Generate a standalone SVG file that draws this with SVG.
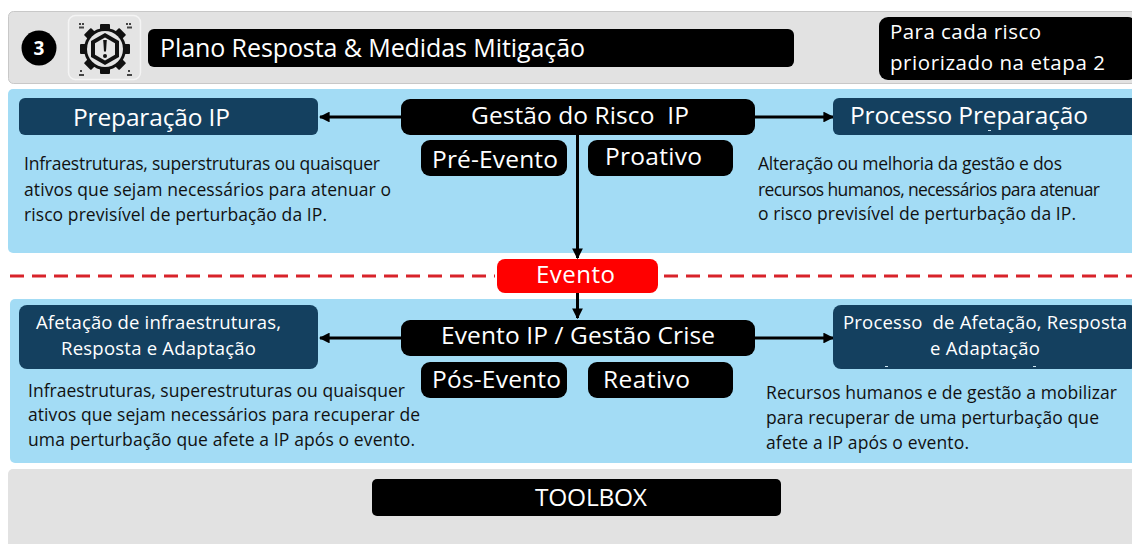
<svg xmlns="http://www.w3.org/2000/svg" width="1132" height="544" viewBox="0 0 1132 544">
<style>
text{font-family:"Open Sans","Noto Sans","Liberation Sans",sans-serif;white-space:pre}
.w{fill:#fff}
.d{fill:#111;font-size:17.500px}
.blk{fill:#000}
.nav{fill:#14405f}
.c{fill:none;stroke:#000;stroke-width:3}
.tick{fill:#cfe6f2}
</style>
<defs>
<marker id="a" markerWidth="3.600" markerHeight="3.600" refX="3.200" refY="1.800" orient="auto" markerUnits="strokeWidth"><path d="M0 0L3.600 1.800L0 3.600z" fill="#000"/></marker>
<rect id="tooth" x="100" y="24" width="10" height="9" rx="1" fill="#111"/>
</defs>
<rect width="1132" height="544" fill="#fff"/>
<g id="header">
<rect x="8.500" y="11.500" width="1130" height="72" rx="5" fill="#e2e2e2" stroke="#c8c8c8"/>
<circle cx="39" cy="48" r="17.500" fill="#000"/>
<text class="w" x="33.500" y="55" font-size="19" font-weight="700">3</text>
<rect x="68.500" y="15.500" width="72" height="64" rx="7" fill="#e4e4e4" stroke="#f4f4f4" stroke-width="1.500"/>
<g id="gear">
<use href="#tooth"/>
<use href="#tooth" transform="rotate(45 105 49)"/>
<use href="#tooth" transform="rotate(90 105 49)"/>
<use href="#tooth" transform="rotate(135 105 49)"/>
<use href="#tooth" transform="rotate(180 105 49)"/>
<use href="#tooth" transform="rotate(225 105 49)"/>
<use href="#tooth" transform="rotate(270 105 49)"/>
<use href="#tooth" transform="rotate(315 105 49)"/>
<circle cx="105" cy="49" r="21" fill="#111"/>
<circle cx="105" cy="49" r="18" fill="#e4e4e4"/>
<path d="M105 33l14 8v16l-14 8-14-8V41z" fill="#111"/>
<path d="M105 37.500l10 5.800v11.400l-10 5.800-10-5.800V43.300z" fill="#e4e4e4"/>
<path d="M103.200 40h3.600l-.8 11.500h-2z" fill="#111"/><circle cx="105" cy="56" r="2" fill="#111"/>
<path d="M79 24h2M82 24h2M79 27.500h5M126 24h2M129 24h2M127 27.500h5M80 71h2M79 75h5M128 71h2M127 75h5" stroke="#444" stroke-width="2"/>
</g>
<rect class="blk" x="148" y="29" width="646" height="38" rx="6"/>
<text class="w" x="160" y="57" font-size="25" textLength="425">Plano Resposta &amp; Medidas Mitigação</text>
<rect class="blk" x="879" y="17" width="258" height="63" rx="9"/>
<text class="w" x="890" y="39" font-size="20.500" textLength="151">Para cada risco</text>
<text class="w" x="890" y="70" font-size="20.500" textLength="215">priorizado na etapa 2</text>
</g>
<rect x="8" y="89" width="1130" height="164" rx="5" fill="#a3dcf5"/>
<rect x="10" y="299" width="1128" height="164" rx="5" fill="#a3dcf5"/>
<rect x="8" y="469" width="1130" height="85" rx="5" fill="#e2e2e2"/>
<path d="M10 276H495M664 276H1132" fill="none" stroke="#d8232a" stroke-width="3" stroke-dasharray="14 8"/>
<g id="connectors">
<path class="c" d="M401 117H320" marker-end="url(#a)"/>
<path class="c" d="M754 117H833" marker-end="url(#a)"/>
<path class="c" d="M577.500 134V258" marker-end="url(#a)"/>
<path class="c" d="M577.500 293V318" marker-end="url(#a)"/>
<path class="c" d="M401 338H320" marker-end="url(#a)"/>
<path class="c" d="M754 338H833" marker-end="url(#a)"/>
</g>
<g id="prep-ip"><rect class="nav" x="19" y="98" width="299" height="37" rx="6"/><text class="w" x="73" y="126" font-size="24.500" textLength="157">Preparação IP</text></g>
<g id="gestao"><rect class="blk" x="401" y="99" width="354" height="36" rx="9"/><text class="w" x="471" y="124" font-size="24.500" textLength="218">Gestão do Risco  IP</text></g>
<g id="proc-prep"><rect class="nav" x="833" y="98" width="305" height="37" rx="6"/><text class="w" x="850" y="124" font-size="24.500" textLength="238">Processo Preparação</text><rect class="tick" x="988" y="130" width="3" height="1"/></g>
<g id="pre"><rect class="blk" x="421" y="140" width="146" height="36" rx="9"/><text class="w" x="432" y="168" font-size="24.500" textLength="126">Pré-Evento</text></g>
<g id="proativo"><rect class="blk" x="588" y="140" width="145" height="36" rx="9"/><text class="w" x="605" y="165" font-size="24.500" textLength="97">Proativo</text></g>
<g id="evento"><rect x="497" y="259" width="161" height="34" rx="8" fill="#f00"/><text class="w" x="536" y="283" font-size="24" textLength="79">Evento</text></g>
<g id="afet"><rect class="nav" x="19" y="305" width="299" height="64" rx="8"/><text class="w" x="36" y="329" font-size="18.500" textLength="245">Afetação de infraestruturas,</text><text class="w" x="61" y="355" font-size="18.500" textLength="195">Resposta e Adaptação</text></g>
<g id="crise"><rect class="blk" x="401" y="320" width="354" height="36" rx="9"/><text class="w" x="441" y="344" font-size="24.500" textLength="274">Evento IP / Gestão Crise</text></g>
<g id="proc-afet"><rect class="nav" x="833" y="305" width="305" height="64" rx="8"/><text class="w" x="843" y="329" font-size="18.500" textLength="284">Processo  de Afetação, Resposta</text><text class="w" x="930" y="355" font-size="18.500" textLength="110">e Adaptação</text><rect class="tick" x="885" y="366" width="3" height="1"/><rect class="tick" x="1033" y="366" width="3" height="1"/></g>
<g id="pos"><rect class="blk" x="421" y="362" width="146" height="36" rx="9"/><text class="w" x="432" y="388" font-size="24.500" textLength="129">Pós-Evento</text></g>
<g id="reativo"><rect class="blk" x="588" y="362" width="145" height="36" rx="9"/><text class="w" x="603" y="388" font-size="24.500" textLength="87">Reativo</text></g>
<g id="texts">
<text class="d" x="24" y="170" textLength="356">Infraestruturas, superstruturas ou quaisquer</text>
<text class="d" x="24" y="196" textLength="367">ativos que sejam necessários para atenuar o</text>
<text class="d" x="24" y="221" textLength="303">risco previsível de perturbação da IP.</text>
<text class="d" x="758" y="170" textLength="304">Alteração ou melhoria da gestão e dos</text>
<text class="d" x="758" y="196" textLength="342">recursos humanos, necessários para atenuar</text>
<text class="d" x="758" y="220" textLength="318">o risco previsível de perturbação da IP.</text>
<text class="d" x="28" y="397" textLength="377">Infraestruturas, superestruturas ou quaisquer</text>
<text class="d" x="28" y="421" textLength="392">ativos que sejam necessários para recuperar de</text>
<text class="d" x="28" y="446" textLength="387">uma perturbação que afete a IP após o evento.</text>
<text class="d" x="766" y="399" textLength="351">Recursos humanos e de gestão a mobilizar</text>
<text class="d" x="766" y="424" textLength="333">para recuperar de uma perturbação que</text>
<text class="d" x="766" y="449" textLength="203">afete a IP após o evento.</text>
</g>
<g id="toolbox"><rect class="blk" x="372" y="479" width="409" height="37" rx="5"/><text class="w" x="535" y="506" font-size="24.500" textLength="112">TOOLBOX</text></g>
</svg>
